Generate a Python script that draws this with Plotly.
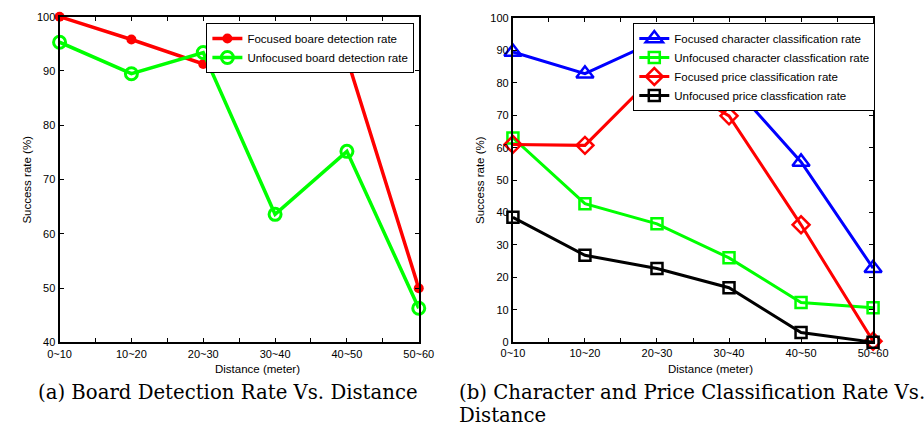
import plotly.graph_objects as go

categories = ["0~10", "10~20", "20~30", "30~40", "40~50", "50~60"]

# Left chart (a)
focused_board = [100, 95.8, 91.3, 91.7, 92.4, 50.0]
unfocused_board = [95.3, 89.5, 93.4, 63.6, 75.2, 46.3]

# Right chart (b)
focused_char = [89.5, 82.8, 93.0, 80.5, 55.6, 22.8]
unfocused_char = [63.0, 42.7, 36.5, 26.0, 12.2, 10.6]
focused_price = [61.0, 60.7, 83.0, 69.8, 36.2, 0.3]
unfocused_price = [38.5, 26.8, 22.7, 16.8, 3.0, 0.0]

left_yticks = [40, 50, 60, 70, 80, 90, 100]
right_yticks = [0, 10, 20, 30, 40, 50, 60, 70, 80, 90, 100]

W, H = 924, 435
xs = list(range(len(categories)))

fig = go.Figure()

def add(xaxis, yaxis, legend, name, y, color, symbol, size, lw, mlw):
    fig.add_trace(go.Scatter(
        x=xs, y=y, name=name, mode="lines+markers",
        xaxis=xaxis, yaxis=yaxis, legend=legend, cliponaxis=False,
        line=dict(color=color, width=lw),
        marker=dict(symbol=symbol, size=size, color=color,
                    line=dict(color=color, width=mlw)),
    ))

add("x", "y", "legend", "Focused boare detection rate", focused_board, "#ff0000", "circle", 10, 3.5, 0)
add("x", "y", "legend", "Unfocused board detection rate", unfocused_board, "#00ff00", "circle-open", 12, 3.5, 3)

add("x2", "y2", "legend2", "Focused character classification rate", focused_char, "#0000ff", "triangle-up-open", 15, 3, 2.5)
add("x2", "y2", "legend2", "Unfocused character classfication rate", unfocused_char, "#00ff00", "square-open", 11, 3, 2.5)
add("x2", "y2", "legend2", "Focused price classification rate", focused_price, "#ff0000", "diamond-open", 13, 3, 2.5)
add("x2", "y2", "legend2", "Unfocused price classfication rate", unfocused_price, "#000000", "square-open", 11, 3, 2.5)

tickfont = dict(family="Liberation Sans, Arial", size=11, color="#000")

xtickvals = [i * 0.5 for i in range(11)]
xticktext = [categories[i // 2] if i % 2 == 0 else "" for i in range(11)]

axis_common = dict(showline=True, linecolor="#000", linewidth=2, mirror="allticks",
                   ticks="inside", ticklen=4, tickwidth=1, tickcolor="#000",
                   showgrid=False, zeroline=False, tickfont=tickfont)

def px_x(v):
    return v / W

def px_y(v):
    return 1 - v / H

legend_font = dict(family="Liberation Sans, Arial", size=11.5, color="#000")

fig.update_layout(
    width=W, height=H, margin=dict(l=0, r=0, t=0, b=0),
    paper_bgcolor="white", plot_bgcolor="white",
    showlegend=True,
    xaxis=dict(domain=[px_x(49), px_x(419)], range=[0, 5], tickvals=xtickvals,
               ticktext=xticktext, anchor="y", **axis_common),
    yaxis=dict(domain=[px_y(346), px_y(11)], range=[40, 100], tickvals=left_yticks,
               anchor="x", **axis_common),
    xaxis2=dict(domain=[px_x(516), px_x(887)], range=[0, 5], tickvals=xtickvals,
                ticktext=xticktext, anchor="y2", **axis_common),
    yaxis2=dict(domain=[px_y(345.7), px_y(12.3)], range=[0, 100], tickvals=right_yticks,
                anchor="x2", **axis_common),
    legend=dict(x=px_x(414.5), y=px_y(17.5), xanchor="right", yanchor="top",
                bgcolor="white", bordercolor="#000", borderwidth=1,
                font=legend_font, tracegroupgap=0, itemwidth=30),
    legend2=dict(x=px_x(640), y=px_y(17.5), xanchor="left", yanchor="top",
                 bgcolor="white", bordercolor="#000", borderwidth=1,
                 font=legend_font, tracegroupgap=0, itemwidth=30),
)

annot_font = dict(family="Liberation Sans, Arial", size=11.5, color="#000")
cap_font = dict(family="DejaVu Serif", size=19.7, color="#000")
annots = [
    dict(text="Distance (meter)", x=px_x(253), y=px_y(373), font=annot_font),
    dict(text="Distance (meter)", x=px_x(720), y=px_y(373), font=annot_font),
    dict(text="Success rate (%)", x=px_x(16), y=px_y(179), font=annot_font, textangle=-90),
    dict(text="Success rate (%)", x=px_x(482), y=px_y(179), font=annot_font, textangle=-90),
    dict(text="(a) Board Detection Rate Vs. Distance", x=px_x(222), y=px_y(397), font=cap_font),
    dict(text="(b) Character and Price Classification Rate Vs.", x=px_x(458), y=px_y(397),
         font=cap_font, xanchor="left"),
    dict(text="Distance", x=px_x(458), y=px_y(421), font=cap_font, xanchor="left"),
]
for a in annots:
    a.setdefault("xanchor", "center")
    fig.add_annotation(xref="paper", yref="paper", showarrow=False, yanchor="middle", **a)

fig.write_html("out.html", config={"displayModeBar": False},
               post_script="document.body.style.margin='0';document.body.style.overflow='hidden';")
